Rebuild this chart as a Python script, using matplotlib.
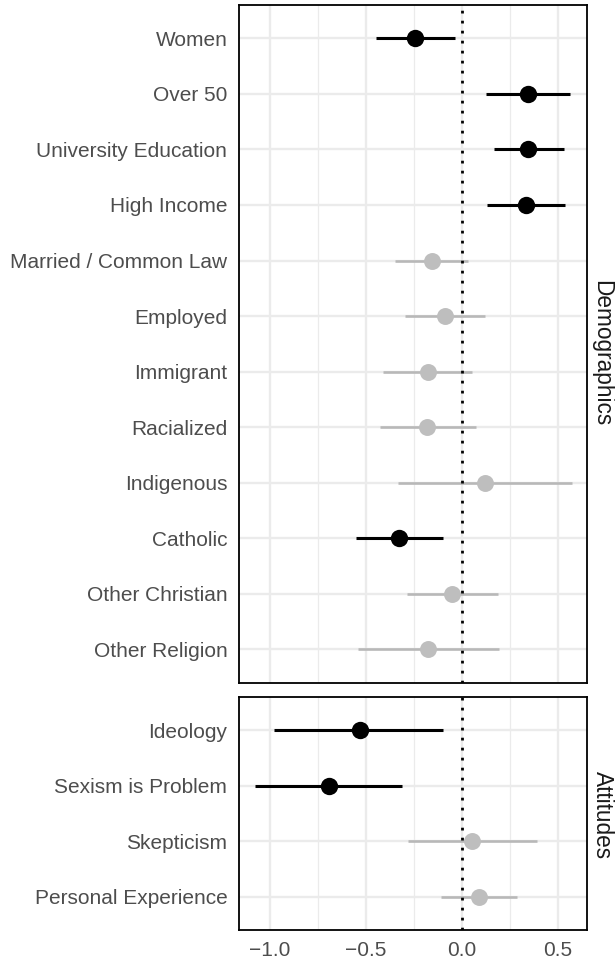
import matplotlib
matplotlib.use("Agg")
import matplotlib.pyplot as plt

plt.rcParams['font.family'] = ['Liberation Sans', 'DejaVu Sans']

# Demographic predictors: estimate with lower / upper interval bounds
demo_labels = ["Women", "Over 50", "University Education", "High Income",
               "Married / Common Law", "Employed", "Immigrant", "Racialized",
               "Indigenous", "Catholic", "Other Christian", "Other Religion"]
demo_est = [-0.241, 0.344, 0.347, 0.333, -0.156, -0.087, -0.177, -0.179,
            0.120, -0.326, -0.050, -0.175]
demo_lo = [-0.448, 0.125, 0.168, 0.132, -0.347, -0.293, -0.408, -0.425,
           -0.333, -0.549, -0.285, -0.540]
demo_hi = [-0.033, 0.566, 0.531, 0.536, 0.033, 0.123, 0.056, 0.075,
           0.575, -0.097, 0.189, 0.193]

# Attitudinal predictors
att_labels = ["Ideology", "Sexism is Problem", "Skepticism", "Personal Experience"]
att_est = [-0.530, -0.693, 0.056, 0.092]
att_lo = [-0.976, -1.078, -0.280, -0.109]
att_hi = [-0.097, -0.309, 0.392, 0.288]

x_ticks = [-1.0, -0.5, 0.0, 0.5]
x_minor = [-0.75, -0.25, 0.25]
x_tick_labels = ["\u22121.0", "\u22120.5", "0.0", "0.5"]

W, H = 615, 963
fig = plt.figure(figsize=(W / 100, H / 100), dpi=100)

left = 239.3 / W
width = (586.7 - 239.3) / W
ax_top = fig.add_axes([left, 1 - 682.7 / H, width, (682.7 - 5) / H])
ax_bot = fig.add_axes([left, 1 - 930 / H, width, (930 - 696.7) / H])

GRID = "#EBEBEB"
TEXT = "#4D4D4D"


def draw_panel(ax, labels, est, lo, hi, strip, strip_y, show_x):
    n = len(labels)
    ys = list(range(n - 1, -1, -1))
    for y, e, l, h in zip(ys, est, lo, hi):
        significant = (l > 0) or (h < 0)
        if significant:
            ax.plot([l, h], [y, y], color="black", lw=2.2, zorder=2,
                    solid_capstyle="butt")
            ax.plot(e, y, "o", ms=12.5, color="black", mec="none", zorder=4)
        else:
            ax.plot([l, h], [y, y], color="#B8B8B8", lw=1.9, zorder=2,
                    solid_capstyle="butt")
            ax.plot(e, y, "o", ms=12.2, color="#BEBEBE", mec="none", zorder=4)
    ax.axvline(0, color="black", lw=2.0, linestyle=(0, (1.0, 2.6)), zorder=3)

    ax.set_xlim(-1.158, 0.651)
    ax.set_ylim(-0.6, n - 1 + 0.6)
    ax.set_yticks(ys)
    ax.set_yticklabels(labels)
    ax.set_xticks(x_ticks)
    ax.set_xticks(x_minor, minor=True)
    if show_x:
        ax.set_xticklabels(x_tick_labels)
    else:
        ax.set_xticklabels([])
    ax.set_axisbelow(True)
    ax.grid(which="major", axis="both", color=GRID, lw=1.7)
    ax.grid(which="minor", axis="x", color=GRID, lw=0.9)
    ax.tick_params(which="both", length=0)
    ax.tick_params(axis="y", pad=8.6, labelsize=15, labelcolor=TEXT)
    ax.tick_params(axis="x", pad=7.6, labelsize=15, labelcolor=TEXT)
    for s in ax.spines.values():
        s.set_linewidth(1.3)
        s.set_color("black")

    # facet strip label on the right
    fig.text(602 / W, 1 - strip_y / H, strip, rotation=-90,
             ha="center", va="center", fontsize=16.3, color="#1A1A1A")


draw_panel(ax_top, demo_labels, demo_est, demo_lo, demo_hi, "Demographics", 353, False)
draw_panel(ax_bot, att_labels, att_est, att_lo, att_hi, "Attitudes", 815, True)

fig.savefig("out.png", dpi=100, facecolor="white")
